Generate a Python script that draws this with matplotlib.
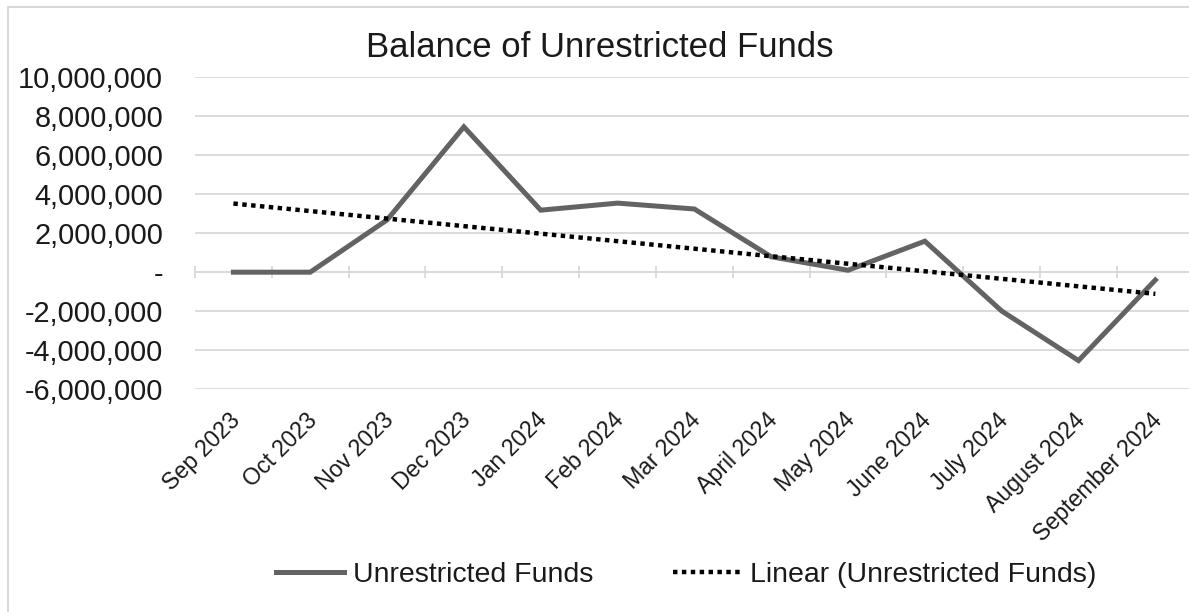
import numpy as np
import matplotlib.pyplot as plt
from matplotlib.lines import Line2D
from matplotlib.transforms import ScaledTranslation
from matplotlib.ticker import FuncFormatter, MultipleLocator

plt.rcParams['font.family'] = ['Liberation Sans', 'DejaVu Sans']

# monthly balance of unrestricted funds
months = ["Sep 2023", "Oct 2023", "Nov 2023", "Dec 2023", "Jan 2024", "Feb 2024",
          "Mar 2024", "April 2024", "May 2024", "June 2024", "July 2024",
          "August 2024", "September 2024"]
balance = [0, 0, 2680000, 7450000, 3180000, 3540000, 3240000,
           790000, 100000, 1590000, -1990000, -4530000, -400000]

y_min, y_max = -6000000, 10000000
text_color = '#1a1a1a'
grid_color = '#d9d9d9'

x = np.arange(len(months))
# least-squares trend, like the spreadsheet's linear trendline
slope, intercept = np.polyfit(x, balance, 1)
trend = slope * x + intercept

fig = plt.figure(figsize=(11.89, 6.12), dpi=100)
# plot area runs past the right edge of the canvas
ax = fig.add_axes([0.164, 0.364, 0.840, 0.51])

ax.plot(x, balance, color='#636363', lw=3.6, solid_joinstyle='miter',
        label='Unrestricted Funds', zorder=3)
ax.plot(x, trend, color='black', lw=3.2, linestyle=(0, (1, 1)),
        label='Linear (Unrestricted Funds)', zorder=4)

ax.set_xlim(-0.5, len(months) - 0.5)
ax.set_ylim(y_min, y_max)
ax.yaxis.set_major_locator(MultipleLocator(2000000))
ax.yaxis.set_major_formatter(FuncFormatter(lambda v, p: '-' if v == 0 else f'{v:,.0f}'))
ax.grid(axis='y', color=grid_color, lw=1.3)
ax.set_axisbelow(True)
for s in ax.spines.values():
    s.set_visible(False)

ax.tick_params(axis='y', length=0, pad=23, labelsize=20.8, labelcolor=text_color)
ax.set_xticks(x)
ax.set_xticklabels(months, rotation=45, ha='right', rotation_mode='anchor',
                   fontsize=16.7, color=text_color)
ax.tick_params(axis='x', length=0, pad=14)
shift = ScaledTranslation(-5 / 100, 0, fig.dpi_scale_trans)
for lbl in ax.get_xticklabels():
    lbl.set_transform(lbl.get_transform() + shift)

# horizontal axis line with category tick marks, crossing at zero
zero_frac = (0 - y_min) / (y_max - y_min)
sec = ax.secondary_xaxis(zero_frac)
sec.set_xticks(np.arange(-0.5, len(months), 1.0))
sec.tick_params(axis='x', direction='inout', length=9, width=1.3,
                color=grid_color, labelbottom=False, labeltop=False)
sec.spines['bottom'].set_color(grid_color)
sec.spines['bottom'].set_linewidth(1.3)
sec.spines['top'].set_visible(False)

fig.text(0.504, 0.923, 'Balance of Unrestricted Funds', ha='center', va='center',
         fontsize=25, color=text_color)

fig.legend(loc='center', bbox_to_anchor=(0.577, 0.06), ncol=2, frameon=False,
           fontsize=20.5, handlelength=2.4, handletextpad=0.3, columnspacing=2.8,
           labelcolor=text_color)

# chart border (left and top edges fall inside the canvas)
border = dict(color=grid_color, lw=1.5, transform=fig.transFigure)
fig.lines.append(Line2D([0.0068, 0.0068], [0.0, 0.9886], **border))
fig.lines.append(Line2D([0.0068, 1.0], [0.9886, 0.9886], **border))

fig.savefig('out.png', dpi=100)
